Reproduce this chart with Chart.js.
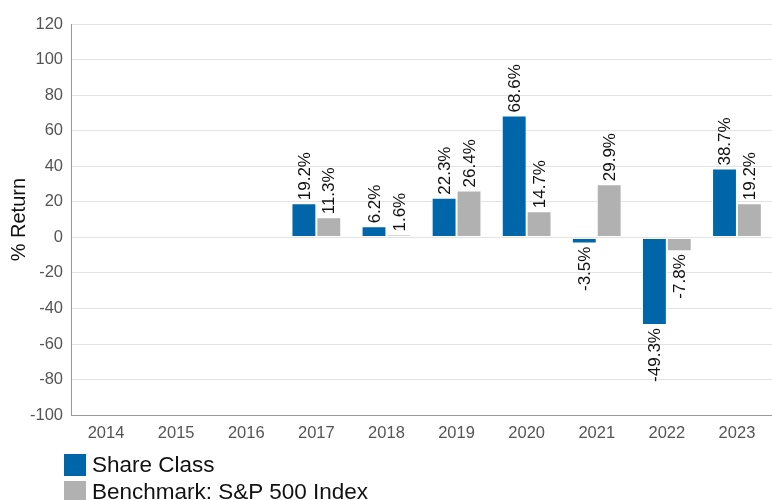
<!DOCTYPE html>
<html>
<head>
<meta charset="utf-8">
<script src="https://cdn.jsdelivr.net/npm/chart.js@4"></script>
<style>
  html, body { margin: 0; padding: 0; background: #fff; }
  #wrap { position: relative; width: 772px; height: 500px; }
  #legend { position: absolute; left: 64px; top: 451px; font-family: "Liberation Sans", Arial, sans-serif; font-size: 22.5px; color: #111; }
  #legend div { display: flex; align-items: center; height: 27px; }
  #legend span.sw { display: inline-block; width: 22px; height: 22px; margin-right: 6px; }
</style>
</head>
<body>
<div id="wrap">
  <canvas id="c" width="772" height="500"></canvas>
  <div id="legend"></div>
</div>
<script>
// ===== Calendar year returns =====
const years = ['2014', '2015', '2016', '2017', '2018', '2019', '2020', '2021', '2022', '2023'];
const shareClass = [null, null, null, 19.2, 6.2, 22.3, 68.6, -3.5, -49.3, 38.7];
const benchmark = [null, null, null, 11.3, 1.6, 26.4, 14.7, 29.9, -7.8, 19.2];
const seriesNames = ['Share Class', 'Benchmark: S&P 500 Index'];
const COLORS = ['#0066aa', '#b1b1b1'];
const FONT = '"Liberation Sans", Arial, sans-serif';

// value labels, rotated, above or below each bar
const barLabels = {
    id: 'barLabels',
    afterDatasetsDraw(chart) {
        const ctx = chart.ctx;
        ctx.save();
        ctx.font = '17px ' + FONT;
        ctx.fillStyle = '#111';
        ctx.textBaseline = 'middle';
        chart.data.datasets.forEach((ds, di) => {
            chart.getDatasetMeta(di).data.forEach((bar, i) => {
                const v = ds.data[i];
                if (v == null) return;
                ctx.save();
                ctx.translate(bar.x, v >= 0 ? bar.y - 3 : bar.y + 3);
                ctx.rotate(-Math.PI / 2);
                ctx.textAlign = v >= 0 ? 'left' : 'right';
                ctx.fillText(v.toFixed(1) + '%', 0, 1);
                ctx.restore();
            });
        });
        ctx.restore();
    }
};

new Chart(document.getElementById('c').getContext('2d'), {
    type: 'bar',
    data: {
        labels: years,
        datasets: [
            { label: seriesNames[0], data: shareClass, backgroundColor: COLORS[0], borderColor: '#fff', borderWidth: 1, borderSkipped: false },
            { label: seriesNames[1], data: benchmark, backgroundColor: COLORS[1], borderColor: '#fff', borderWidth: 1, borderSkipped: false }
        ]
    },
    options: {
        responsive: false, animation: false,
        layout: { padding: { top: 24, right: 0, bottom: 49, left: 0 } },
        categoryPercentage: 0.71, barPercentage: 1,
        scales: {
            x: {
                grid: { display: false, drawTicks: false },
                border: { display: true, color: '#999', width: 1 },
                ticks: { color: '#555', font: { family: FONT, size: 16.5 }, padding: 8 }
            },
            y: {
                min: -100, max: 120,
                afterFit: s => { s.width = 71; },
                grid: { color: '#e3e3e3', drawTicks: false },
                border: { display: true, color: '#999', width: 1 },
                ticks: { stepSize: 20, color: '#555', font: { family: FONT, size: 16.5 }, padding: 8 },
                title: { display: true, text: '% Return', color: '#111', font: { family: FONT, size: 20 }, padding: { top: 7, bottom: 0 } }
            }
        },
        plugins: { legend: { display: false }, tooltip: { enabled: false } }
    },
    plugins: [barLabels]
});

// legend, stacked
const lg = document.getElementById('legend');
seriesNames.forEach((n, i) => {
    const row = document.createElement('div');
    row.innerHTML = '<span class="sw" style="background:' + COLORS[i] + '"></span>';
    row.appendChild(document.createTextNode(n));
    lg.appendChild(row);
});
</script>
</body>
</html>
